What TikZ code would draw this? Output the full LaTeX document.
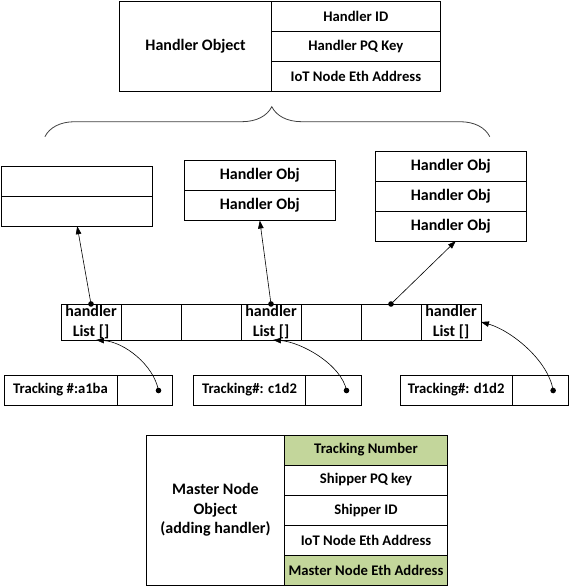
\documentclass[tikz,border=0pt]{standalone}
\usepackage{fontspec}
\setmainfont{Carlito}
\usetikzlibrary{arrows.meta, positioning, calc, decorations.pathreplacing}
\definecolor{fieldgreen}{RGB}{195,214,155}
\newcommand{\bigtxt}{\fontsize{16}{19.5}\selectfont\bfseries}
\newcommand{\smalltxt}{\fontsize{14.67}{18}\selectfont\bfseries}

\begin{document}
\begin{tikzpicture}[x=1pt, y=-1pt,
        every node/.style={font=\smalltxt},
        cell/.style={rectangle, draw, line width=0.9pt, inner sep=0pt, outer sep=0pt,
                     minimum height=30pt, align=center, anchor=north west},
        slot/.style={cell, minimum width=60pt, minimum height=36pt, font=\bigtxt},
        arr/.style={-{Triangle[length=8pt,width=5.5pt]}, line width=0.6pt},
        brace/.style={decorate, decoration={brace, amplitude=30pt, aspect=0.51},
                      line width=0.8pt, black!75}
    ]
    \useasboundingbox (0,0) rectangle (569,587);

    % handler object
    \node[cell, minimum width=152pt, minimum height=90pt, font=\bigtxt] (hobj) at (119.6,1.5) {Handler Object};
    \node[cell, minimum width=168.5pt] (hid) at (hobj.north east) {Handler ID};
    \node[cell, minimum width=168.5pt, below=0pt of hid] (hpq) {Handler PQ Key};
    \node[cell, minimum width=168.5pt, below=0pt of hpq] (heth) {IoT Node Eth Address};
    \draw[brace] (44.9,136.7) -- (489.8,136.7);

    % handler lists
    \node[cell, minimum width=151pt] (la) at (1.7,166.2) {};
    \node[cell, minimum width=151pt, below=0pt of la] (lb) {};
    \node[cell, minimum width=151pt, font=\bigtxt] (ma) at (184.3,160.5) {Handler Obj};
    \node[cell, minimum width=151pt, font=\bigtxt, below=0pt of ma] (mb) {Handler Obj};
    \node[cell, minimum width=151pt, font=\bigtxt] (ra) at (375.3,151) {Handler Obj};
    \node[cell, minimum width=151pt, font=\bigtxt, below=0pt of ra] (rb) {Handler Obj};
    \node[cell, minimum width=151pt, font=\bigtxt, below=0pt of rb] (rc) {Handler Obj};

    % array
    \node[slot] (c1) at (61,304) {handler\\List []};
    \node[slot, right=0pt of c1] (c2) {};
    \node[slot, right=0pt of c2] (c3) {};
    \node[slot, right=0pt of c3] (c4) {handler\\List []};
    \node[slot, right=0pt of c4] (c5) {};
    \node[slot, right=0pt of c5] (c6) {};
    \node[slot, right=0pt of c6] (c7) {handler\\List []};

    % tracking entries
    \node[cell, minimum width=113pt] (t1) at (4,375) {Tracking \#:a1ba};
    \node[cell, minimum width=55pt, right=0pt of t1] (t1p) {};
    \node[cell, minimum width=112.4pt] (t2) at (193.3,375) {Tracking\#: c1d2};
    \node[cell, minimum width=55.6pt, right=0pt of t2] (t2p) {};
    \node[cell, minimum width=112.3pt] (t3) at (400,375) {Tracking\#: d1d2};
    \node[cell, minimum width=55.7pt, right=0pt of t3] (t3p) {};
    \coordinate (d1) at ($(t1p.center)+(14,0.5)$);
    \coordinate (d2) at ($(t2p.center)+(13,0.5)$);
    \coordinate (d3) at ($(t3p.center)+(13,0.5)$);

    % master node
    \node[cell, minimum width=137.6pt, minimum height=150pt, font=\bigtxt] (mno) at (146.7,435) {Master Node\\Object\\(adding handler)};
    \node[cell, minimum width=163.4pt, fill=fieldgreen] (mtrk) at (mno.north east) {Tracking Number};
    \node[cell, minimum width=163.4pt, below=0pt of mtrk] (mpq) {Shipper PQ key};
    \node[cell, minimum width=163.4pt, below=0pt of mpq] (mid) {Shipper ID};
    \node[cell, minimum width=163.4pt, below=0pt of mid] (meth) {IoT Node Eth Address};
    \node[cell, minimum width=163.4pt, fill=fieldgreen, below=0pt of meth] (mmeth) {Master Node Eth Address};

    % pointers
    \draw[arr] (c1.north) -- (lb.south);
    \draw[arr] (c4.north) -- (mb.south);
    \draw[arr] (c6.north) -- ([xshift=5pt]rc.south);
    \draw[arr] (d1) .. controls +(-5,-26) and +(28,2) .. ([xshift=5pt]c1.south);
    \draw[arr] (d2) .. controls +(-5,-26) and +(28,2) .. ([xshift=2pt]c4.south);
    \draw[arr] (d3) .. controls +(-5,-31) and +(29,8) .. (c7.east);
    \foreach \p in {c1.north, c4.north, c6.north, d1, d2, d3}
        \fill (\p) circle (2.8pt);
\end{tikzpicture}
\end{document}
